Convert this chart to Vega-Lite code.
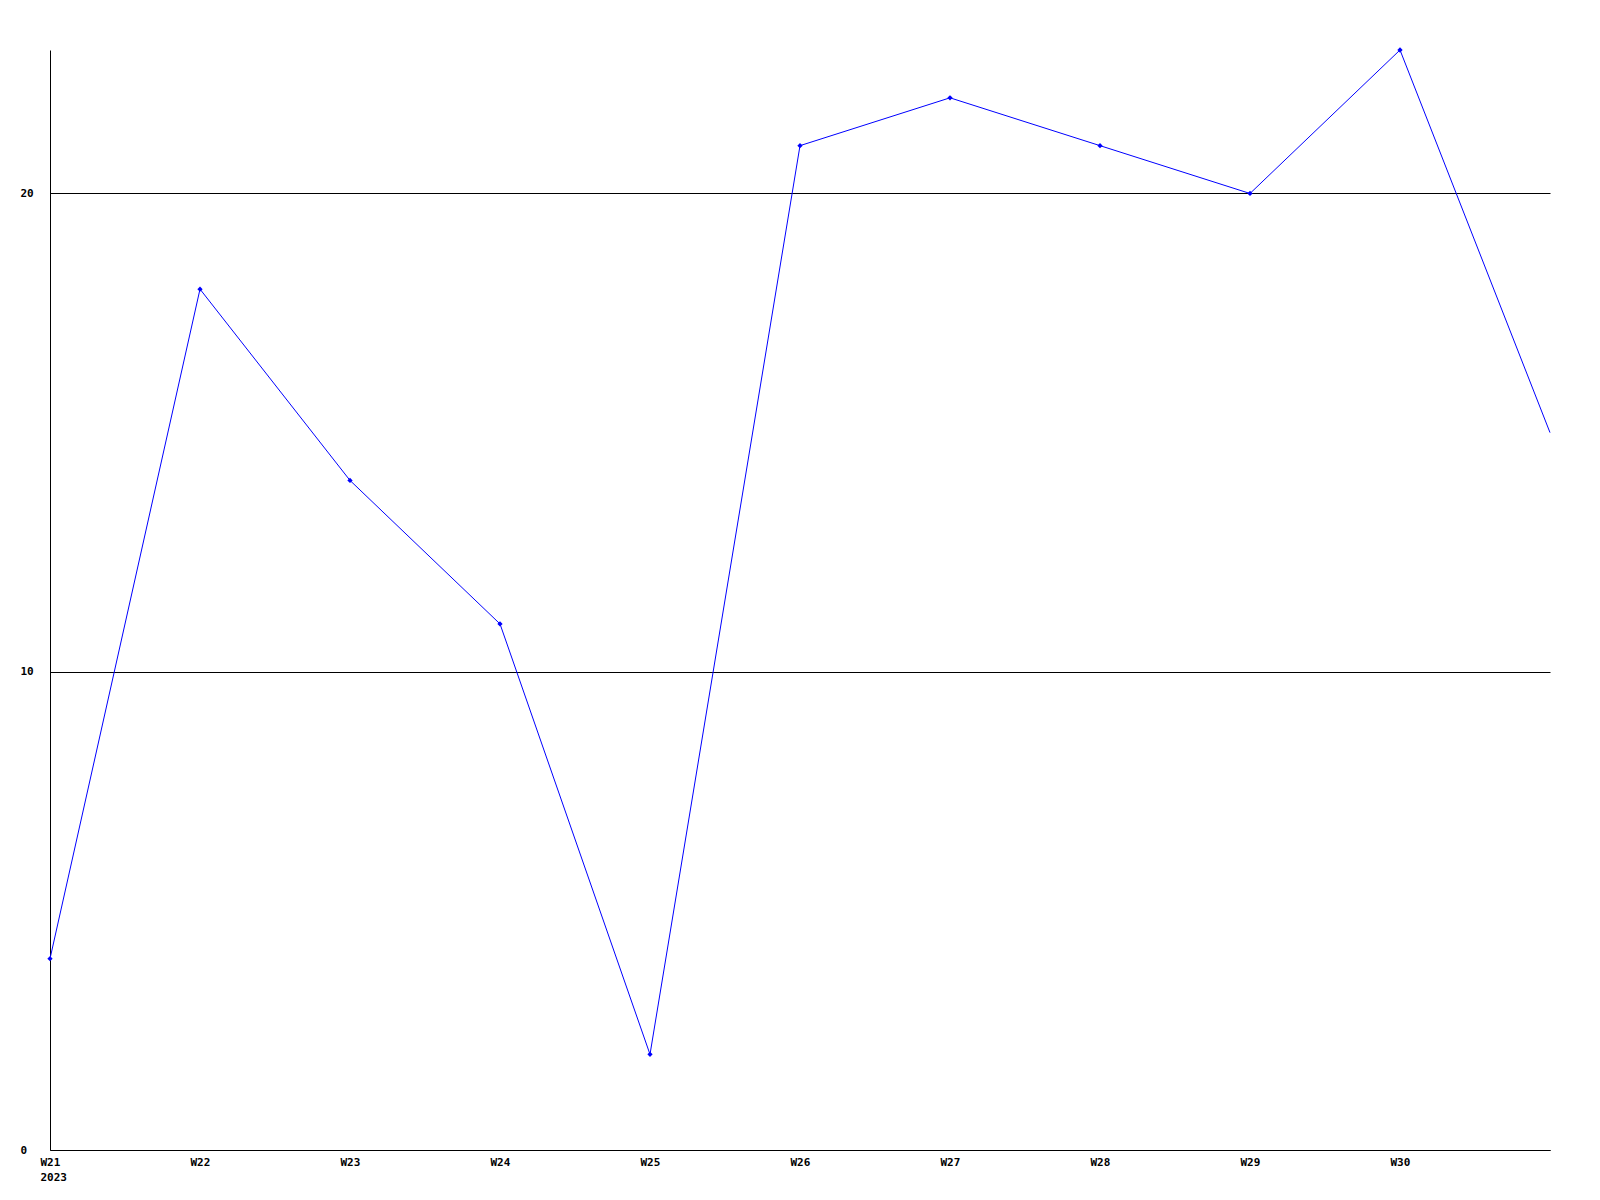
{
  "$schema": "https://vega.github.io/schema/vega-lite/v6.json",
  "width": 1500,
  "height": 1100,
  "autosize": {"type": "none"},
  "padding": {"left": 50, "top": 50, "right": 50, "bottom": 50},
  "background": "white",
  "config": {
    "view": {"stroke": null},
    "axis": {
      "labelFont": "DejaVu Sans Mono",
      "labelFontWeight": "bold",
      "labelFontSize": 11,
      "labelColor": "black",
      "domainColor": "black",
      "domainWidth": 1,
      "ticks": false,
      "title": null
    }
  },
  "data": {
    "values": [
      {"week": 21, "value": 4},
      {"week": 22, "value": 18},
      {"week": 23, "value": 14},
      {"week": 24, "value": 11},
      {"week": 25, "value": 2},
      {"week": 26, "value": 21},
      {"week": 27, "value": 22},
      {"week": 28, "value": 21},
      {"week": 29, "value": 20},
      {"week": 30, "value": 23},
      {"week": 31, "value": 15}
    ]
  },
  "encoding": {
    "x": {
      "field": "week",
      "type": "quantitative",
      "scale": {"domain": [21, 31], "nice": false, "zero": false},
      "axis": {
        "values": [21, 22, 23, 24, 25, 26, 27, 28, 29, 30],
        "grid": false,
        "labelExpr": "datum.value == 21 ? ['W21', '2023'] : 'W' + datum.value",
        "labelAlign": "left",
        "labelOffset": -10,
        "labelBaseline": "top",
        "labelPadding": 6,
        "labelLineHeight": 15,
        "labelFlush": false,
        "labelOverlap": false
      }
    },
    "y": {
      "field": "value",
      "type": "quantitative",
      "scale": {"domain": [0, 23], "nice": false},
      "axis": {
        "values": [0, 10, 20],
        "grid": true,
        "gridColor": "black",
        "gridOpacity": 1,
        "gridWidth": 1,
        "labelAlign": "left",
        "labelPadding": 30,
        "labelBaseline": "middle",
        "labelFlush": false
      }
    }
  },
  "layer": [
    {
      "mark": {"type": "line", "color": "#0000ff", "strokeWidth": 1}
    },
    {
      "transform": [{"filter": "datum.week < 31"}],
      "mark": {"type": "point", "shape": "diamond", "filled": true, "color": "#0000ff", "size": 28, "opacity": 1}
    }
  ]
}
